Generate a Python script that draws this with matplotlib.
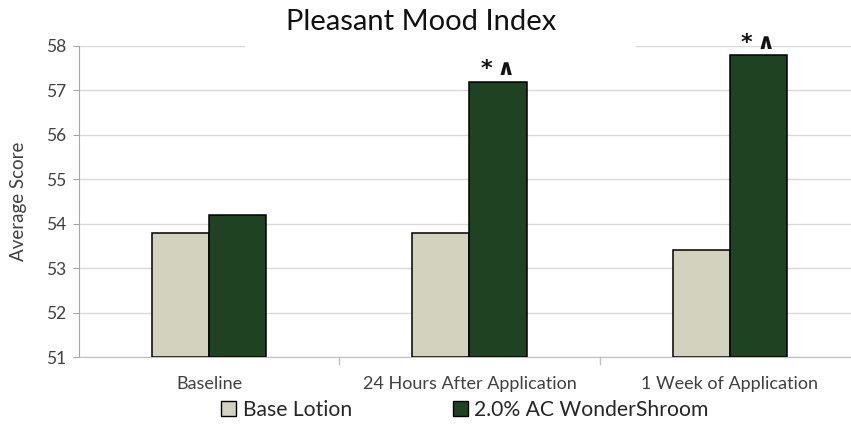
import numpy as np
import matplotlib.pyplot as plt
from matplotlib.patches import Patch, Rectangle

# Data
categories = ["Baseline", "24 Hours After Application", "1 Week of Application"]
base_lotion = [53.8, 53.8, 53.4]
wondershroom = [54.2, 57.2, 57.8]
marks = ["", "*\u2009\u2227", "*\u2009\u2227"]
series_names = ["Base Lotion", "2.0% AC WonderShroom"]

c_base = "#D3D2BE"
c_shroom = "#1E4222"

plt.rcParams['font.family'] = ['Lato', 'DejaVu Sans']

fig = plt.figure(figsize=(8.51, 4.28), dpi=100)
ax = fig.add_axes([79 / 851, 1 - 357 / 428, (860 - 79) / 851, (357 - 46) / 428])

x = np.arange(len(categories))
w = 0.22
ax.bar(x - w / 2, np.array(base_lotion) - 51, w, bottom=51, color=c_base,
       edgecolor="black", linewidth=1.1, zorder=3)
ax.bar(x + w / 2, np.array(wondershroom) - 51, w, bottom=51, color=c_shroom,
       edgecolor="black", linewidth=1.1, zorder=3)

for xi, v, m in zip(x, wondershroom, marks):
    if m:
        ax.text(xi + w / 2, v + 0.05, m, ha="center", va="bottom", fontsize=16,
                fontweight="bold", family=["DejaVu Sans"], color="#111111", zorder=4)

ax.set_xlim(-0.5, 2.5)
ax.set_ylim(51, 58)
ax.set_yticks(range(51, 59))
ax.set_xticks(x)
ax.set_xticklabels(categories)
ax.set_xticks([0.5, 1.5], minor=True)
ax.tick_params(axis="x", which="major", length=0, pad=14, labelsize=13, labelcolor="#404040")
ax.tick_params(axis="x", which="minor", length=6, color="#BFBFBF", width=1)
ax.tick_params(axis="y", length=4, color="#A6A6A6", labelsize=12.5, labelcolor="#404040", pad=5)

ax.grid(axis="y", color="#D9D9D9", linewidth=1, zorder=0)
for s in ["top", "right"]:
    ax.spines[s].set_visible(False)
ax.spines["left"].set_color("#A6A6A6")
ax.spines["bottom"].set_color("#BFBFBF")

ax.set_ylabel("Average Score", fontsize=13.5, color="#404040", labelpad=14)

# white title area hiding the top gridline
fig.patches.append(Rectangle((245 / 851, 1 - 50 / 428), (636 - 245) / 851, 50 / 428,
                             transform=fig.transFigure, facecolor="white",
                             edgecolor="none", zorder=2))
fig.text(421 / 851, 1 - 22 / 428, "Pleasant Mood Index", ha="center", va="center",
         fontsize=21, color="#111111", zorder=3)

handles = [Patch(facecolor=c_base, edgecolor="black"),
           Patch(facecolor=c_shroom, edgecolor="black")]
fig.legend(handles, series_names, loc="center", bbox_to_anchor=(465 / 851, 1 - 410 / 428),
           ncol=2, frameon=False, fontsize=15.2, handlelength=0.7, handleheight=0.7,
           handletextpad=0.3, columnspacing=4.8, labelcolor="#262626")

fig.savefig("out.png", dpi=100)
